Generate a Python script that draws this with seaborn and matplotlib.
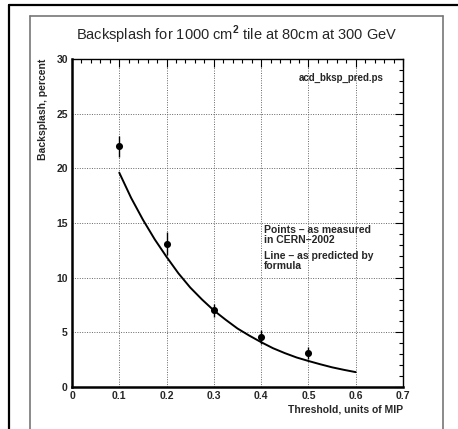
import matplotlib
matplotlib.use("Agg")
import matplotlib.pyplot as plt
import seaborn as sns
import pandas as pd
from matplotlib.ticker import MultipleLocator
from matplotlib.lines import Line2D

# ---- data ----
thresholds = [0.1, 0.2, 0.3, 0.4, 0.5]
backsplash = [22.0, 13.1, 7.0, 4.6, 3.1]
errors = [1.0, 1.05, 0.6, 0.65, 0.55]

curve_x = [0.10, 0.125, 0.15, 0.175, 0.20, 0.225, 0.25, 0.275, 0.30, 0.325, 0.35, 0.375,
           0.40, 0.425, 0.45, 0.475, 0.50, 0.525, 0.55, 0.575, 0.60]
curve_y = [19.6, 17.3, 15.3, 13.5, 11.9, 10.4, 9.1, 8.0, 7.0, 6.15, 5.35, 4.7,
           4.1, 3.55, 3.1, 2.7, 2.38, 2.08, 1.8, 1.57, 1.36]

x_ticks = [0, 0.1, 0.2, 0.3, 0.4, 0.5, 0.6, 0.7]
x_tick_labels = ["0", "0.1", "0.2", "0.3", "0.4", "0.5", "0.6", "0.7"]
y_ticks = [0, 5, 10, 15, 20, 25, 30]
y_tick_labels = ["0", "5", "10", "15", "20", "25", "30"]

sns.set_style("white")
plt.rcParams['font.family'] = ['Liberation Sans', 'DejaVu Sans']
plt.rcParams['mathtext.fontset'] = 'custom'
plt.rcParams['mathtext.rm'] = 'Liberation Sans'
plt.rcParams['mathtext.bf'] = 'Liberation Sans:bold'

W, H = 458, 429
fig = plt.figure(figsize=(W / 100, H / 100), dpi=100)

def fx(px):
    return px / W

def fy(py):
    return 1 - py / H

# page frames
fig.add_artist(Line2D([fx(9), fx(458)], [fy(4.5), fy(4.5)], color="black", lw=1.6))
fig.add_artist(Line2D([fx(9), fx(9)], [fy(4.5), fy(429)], color="black", lw=1.6))
fig.add_artist(Line2D([fx(30), fx(443)], [fy(16), fy(16)], color="#777777", lw=1.2))
fig.add_artist(Line2D([fx(30), fx(30)], [fy(16), fy(429)], color="#777777", lw=1.2))
fig.add_artist(Line2D([fx(443), fx(443)], [fy(16), fy(429)], color="#777777", lw=1.2))

ax = fig.add_axes([fx(72), fy(387), fx(403) - fx(72), fy(59) - fy(387)])

df_pts = pd.DataFrame({"x": thresholds, "y": backsplash, "err": errors})
df_curve = pd.DataFrame({"x": curve_x, "y": curve_y})

ax.errorbar(df_pts["x"], df_pts["y"], yerr=df_pts["err"], fmt="none",
            ecolor="black", elinewidth=1.0, capsize=0, zorder=3)
sns.scatterplot(data=df_pts, x="x", y="y", ax=ax, color="black", s=26,
                edgecolor="black", linewidth=0, zorder=4, legend=False)
sns.lineplot(data=df_curve, x="x", y="y", ax=ax, color="black", lw=1.4,
             zorder=3, legend=False)

ax.set_xlim(0, 0.7)
ax.set_ylim(0, 30)
ax.set_xticks(x_ticks)
ax.set_xticklabels(x_tick_labels)
ax.set_yticks(y_ticks)
ax.set_yticklabels(y_tick_labels)
ax.xaxis.set_minor_locator(MultipleLocator(0.02))
ax.yaxis.set_minor_locator(MultipleLocator(1))
ax.tick_params(which="both", direction="in", top=True, right=True,
               color="black", width=0.8)
ax.tick_params(which="major", length=6, labelsize=7.5, pad=3)
ax.tick_params(which="minor", length=3)
for lab in ax.get_xticklabels() + ax.get_yticklabels():
    lab.set_fontweight("bold")

ax.grid(True, which="major", linestyle=(0, (1, 1.5)), color="#666666", lw=0.7)
for s in ax.spines.values():
    s.set_color("black")
    s.set_linewidth(1.0)
ax.spines["left"].set_linewidth(1.8)
ax.spines["bottom"].set_linewidth(1.8)

ax.set_xlabel("")
ax.set_ylabel("")

fig.text(fx(237), fy(35), "Backsplash for 1000 cm$^{\\mathbf{2}}$ tile at 80cm at 300 GeV",
         ha="center", va="center", fontsize=10.5)
fig.text(fx(403), fy(409), "Threshold, units of MIP", ha="right", va="center",
         fontsize=7.5, fontweight="bold")
fig.text(fx(43), fy(59), "Backsplash, percent", ha="center", va="top",
         rotation=90, fontsize=7.5, fontweight="bold")

fig.text(fx(384), fy(78), "acd_bksp_pred.ps", ha="right", va="center",
         fontsize=7, fontweight="bold")
ax.text(0.405, 13.9, "Points \u2013 as measured\nin CERN\u20132002", ha="left", va="center",
        fontsize=7.5, fontweight="bold", linespacing=1.0)
ax.text(0.405, 11.5, "Line \u2013 as predicted by\nformula", ha="left", va="center",
        fontsize=7.5, fontweight="bold", linespacing=1.0)

fig.savefig("out.png", dpi=100)
